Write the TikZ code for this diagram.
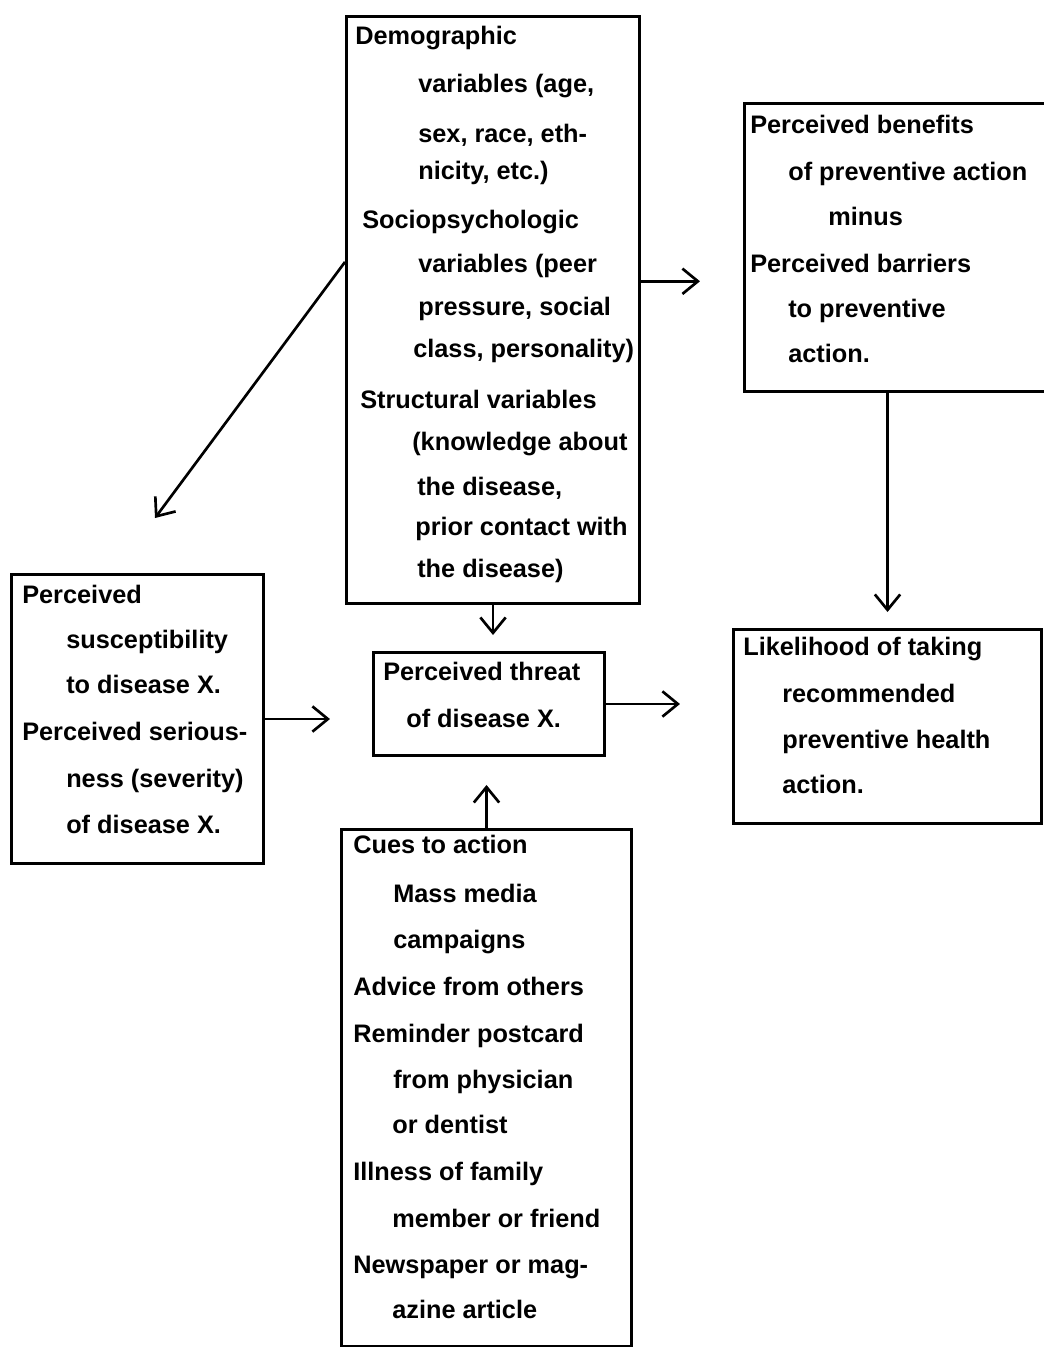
\documentclass[tikz,border=0pt]{standalone}
\usepackage{fontspec}
\setmainfont{Liberation Sans}
\usetikzlibrary{arrows.meta}

\begin{document}
\begin{tikzpicture}[
    x = 0.025cm,
    y = -0.025cm,
    box/.style = {
      draw,
      line width = 2.1pt,
      anchor = north west,
      inner sep = 0pt
    },
    txt/.style = {
      anchor = base west,
      inner sep = 0pt,
      font = \fontsize{18}{22}\selectfont\bfseries
    },
    arr/.style = {
      line width = 1.9pt,
      -{Straight Barb[length=11pt,width=18pt,line width=1.9pt]}
    }
  ]

  \useasboundingbox (0,0) rectangle (1044,1347);

  % frames
  \node[box, minimum width=7.325cm, minimum height=14.675cm] (demo) at (345,15) {};
  \node[box, minimum width=7.925cm, minimum height=7.2cm] (benefits) at (743,102) {};
  \node[box, minimum width=6.3cm, minimum height=7.225cm] (susc) at (10,573) {};
  \node[box, minimum width=5.775cm, minimum height=2.575cm] (threat) at (372,651) {};
  \node[box, minimum width=7.7cm, minimum height=4.85cm] (likely) at (732,628) {};
  \node[box, minimum width=7.25cm, minimum height=12.925cm] (cues) at (340,828) {};

  % texts
  \foreach \y/\x/\t [count=\i] in {45/355/Demographic, 93/418/{variables (age,},
      142/418/{sex, race, eth-}, 179/418/{nicity, etc.)}, 228/362/Sociopsychologic,
      272/418/variables (peer, 315/418/{pressure, social}, 357/413/{class, personality)},
      408/360/Structural variables, 450/412/(knowledge about, 495/417/{the disease,},
      535/415/prior contact with, 577/417/the disease)}
    \node[txt] (demo-\i) at (\x,\y) {\t};

  \foreach \y/\x/\t [count=\i] in {133/750/Perceived benefits, 180/788/of preventive action,
      225/828/minus, 272/750/Perceived barriers, 317/788/to preventive, 362/788/action.}
    \node[txt] (benefits-\i) at (\x,\y) {\t};

  \foreach \y/\x/\t [count=\i] in {603/22/Perceived, 648/66/susceptibility,
      693/66/to disease X., 740/22/Perceived serious-, 787/66/ness (severity),
      833/66/of disease X.}
    \node[txt] (susc-\i) at (\x,\y) {\t};

  \node[txt] (threat-1) at (383,680) {Perceived threat};
  \node[txt] (threat-2) at (406,727) {of disease X.};

  \foreach \y/\x/\t [count=\i] in {655/743/Likelihood of taking, 702/782/recommended,
      748/782/preventive health, 793/782/action.}
    \node[txt] (likely-\i) at (\x,\y) {\t};

  \foreach \y/\x/\t [count=\i] in {853/353/Cues to action, 902/393/Mass media,
      948/393/campaigns, 995/353/Advice from others, 1042/353/Reminder postcard,
      1088/393/from physician, 1133/392/or dentist, 1180/353/Illness of family,
      1227/392/member or friend, 1273/353/Newspaper or mag-, 1318/392/azine article}
    \node[txt] (cues-\i) at (\x,\y) {\t};

  % arrows
  \coordinate (suscin) at (155,518);
  \draw[arr] (demo.162) -- (suscin);
  \draw[arr, shorten >=1.075cm] (demo.11) -- (demo.11 -| benefits.west);
  \draw[arr, shorten >=0.4cm] (demo.south) -- (demo.south |- threat.north);
  \draw[arr, shorten >=1.05cm] (susc.east) -- (susc.east -| threat.west);
  \draw[arr, shorten >=1.3cm] (threat.east) -- (threat.east -| likely.west);
  \draw[arr, shorten >=0.4cm] (likely.north |- benefits.south) -- (likely.north);
  \draw[arr, shorten >=0.7cm] (cues.north) -- (cues.north |- threat.south);

\end{tikzpicture}
\end{document}
